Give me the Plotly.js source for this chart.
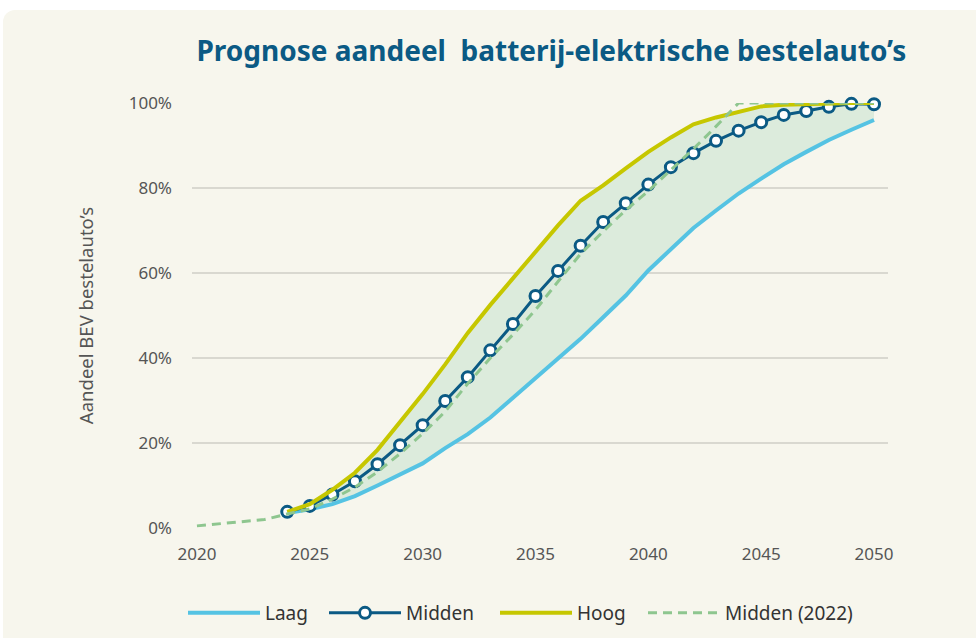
<!DOCTYPE html>
<html>
<head>
<meta charset="utf-8">
<script src="https://cdn.plot.ly/plotly-3.0.1.min.js"></script>
<style>
  html, body { margin: 0; padding: 0; background: #ffffff; }
  #card {
    position: absolute; left: 3px; top: 10px; width: 990px; height: 650px;
    background: #f7f6ed; border-radius: 12px;
  }
  #chart { position: absolute; left: 0; top: 0; width: 976px; height: 638px; }
</style>
</head>
<body>
<div id="card"></div>
<div id="chart"></div>
<script>
// years
const years = [2024, 2025, 2026, 2027, 2028, 2029, 2030, 2031, 2032, 2033, 2034, 2035, 2036, 2037,
               2038, 2039, 2040, 2041, 2042, 2043, 2044, 2045, 2046, 2047, 2048, 2049, 2050];
const years2022 = [2020, 2021, 2022, 2023].concat(years);

// share of BEV vans, in %
const laag = [3.5, 4.4, 5.6, 7.5, 10, 12.6, 15.2, 18.8, 22.1, 26, 30.6, 35.2, 39.7, 44.5,
              49.6, 54.7, 60.6, 65.6, 70.6, 74.7, 78.7, 82.2, 85.6, 88.5, 91.3, 93.7, 96];
const midden = [3.8, 5.2, 7.9, 11, 15, 19.5, 24.2, 29.9, 35.5, 41.8, 48, 54.6, 60.5, 66.4,
                72, 76.4, 80.8, 84.9, 88.2, 91.1, 93.5, 95.5, 97.2, 98.1, 99.1, 99.8, 99.7];
const hoog = [3.8, 5.6, 9, 13, 18.4, 25, 31.5, 38.5, 45.9, 52.5, 58.8, 65.1, 71.2, 77,
              80.6, 84.6, 88.5, 91.9, 95, 96.6, 98, 99.2, 99.6, 99.8, 99.9, 100, 100];
const midden2022 = [0.5, 1.0, 1.4, 2.0, 3.3, 4.5, 6.8, 9.6, 13.2, 17.5, 22.2, 27.4, 34, 40, 45.5,
                    51.3, 58, 64.5, 69.8, 74.8, 79.3, 84.2, 89.2, 94.5, 100, 100, 100, 100, 100, 100, 100];

const xTicks = [2020, 2025, 2030, 2035, 2040, 2045, 2050];
const yTicks = [0, 20, 40, 60, 80, 100];

const fontFam = '"Noto Sans", "Open Sans", sans-serif';

// band between Laag and Hoog
const band = {
    x: years.concat(years.slice().reverse()),
    y: hoog.concat(laag.slice().reverse()),
    fill: 'toself',
    fillcolor: '#dcebdc',
    line: { width: 0 },
    mode: 'lines',
    hoverinfo: 'skip',
    showlegend: false
};

const traceLaag = {
    x: years, y: laag, name: 'Laag', mode: 'lines',
    line: { color: '#55c3e3', width: 4 },
    cliponaxis: false,
    legend: 'legend'
};

const traceMidden = {
    x: years, y: midden, name: 'Midden', mode: 'lines+markers',
    line: { color: '#0b5a84', width: 3 },
    marker: { symbol: 'circle', size: 11, color: '#ffffff', line: { color: '#0b5a84', width: 3 } },
    cliponaxis: false,
    legend: 'legend2'
};

const traceHoog = {
    x: years, y: hoog, name: 'Hoog', mode: 'lines',
    line: { color: '#c6c700', width: 4 },
    cliponaxis: false,
    legend: 'legend3'
};

const trace2022 = {
    x: years2022, y: midden2022, name: 'Midden (2022)', mode: 'lines',
    line: { color: '#8ec68f', width: 3, dash: '9px,6px' },
    cliponaxis: false,
    legend: 'legend4'
};

// one legend per entry so the spacing can follow the original
function legendAt(xPx) {
    return {
        orientation: 'h',
        xref: 'container', x: xPx / 976, xanchor: 'left',
        yref: 'container', y: 1 - 613 / 638, yanchor: 'middle',
        font: { size: 19, color: '#333333' },
        itemwidth: 72,
        bgcolor: 'rgba(0,0,0,0)'
    };
}

const layout = {
    width: 976,
    height: 638,
    paper_bgcolor: 'rgba(0,0,0,0)',
    plot_bgcolor: 'rgba(0,0,0,0)',
    margin: { l: 192, r: 88, t: 103, b: 110 },
    font: { family: fontFam, color: '#555555', size: 16 },
    title: {
        text: '<b>Prognose aandeel  batterij-elektrische bestelauto’s</b>',
        font: { family: fontFam, size: 28, color: '#0b5a84' },
        xref: 'container', x: 0.565, xanchor: 'center',
        yref: 'container', y: 1 - 51 / 638, yanchor: 'middle'
    },
    xaxis: {
        range: [2019.78, 2050.62],
        tickvals: xTicks,
        ticktext: xTicks.map(String),
        showgrid: false,
        zeroline: false,
        showline: false,
        ticks: '',
        ticklabelstandoff: 14,
        tickfont: { size: 17, color: '#555555' }
    },
    yaxis: {
        range: [0, 100],
        tickvals: yTicks,
        ticktext: yTicks.map(v => v + '%'),
        showgrid: true,
        gridcolor: '#d9d8d0',
        gridwidth: 1.5,
        zeroline: false,
        showline: false,
        ticks: '',
        ticklabelstandoff: 19,
        tickfont: { size: 17, color: '#555555' },
        title: {
            text: 'Aandeel BEV bestelauto’s',
            standoff: 30,
            font: { size: 18.5, color: '#555555' }
        }
    },
    showlegend: true,
    legend: legendAt(183),
    legend2: legendAt(324),
    legend3: legendAt(495),
    legend4: legendAt(643)
};

Plotly.newPlot('chart', [band, traceLaag, traceMidden, traceHoog, trace2022], layout,
    { displayModeBar: false, staticPlot: true });
</script>
</body>
</html>
